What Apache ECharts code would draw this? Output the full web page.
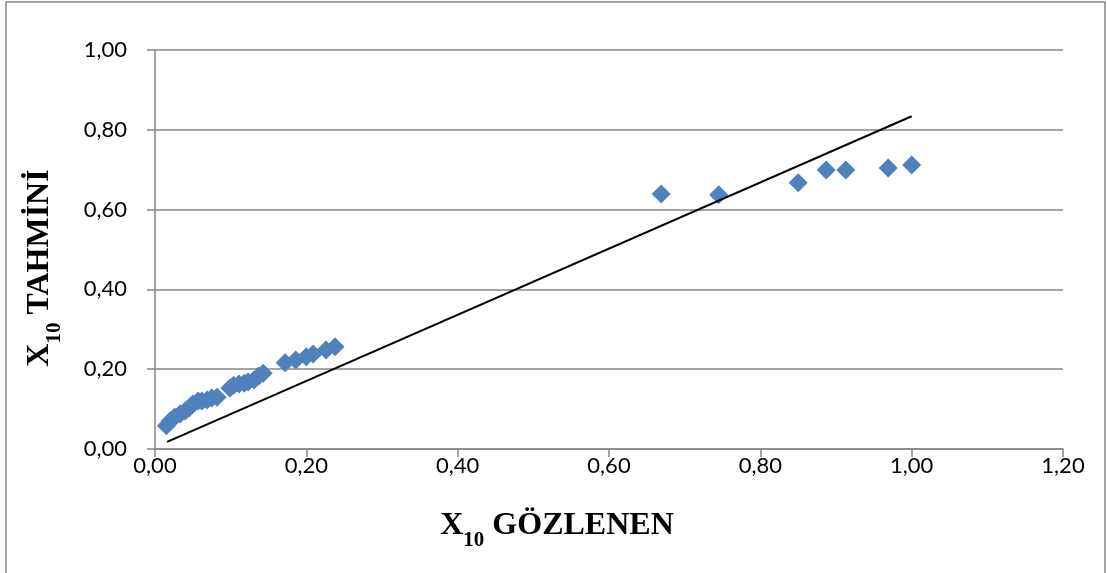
<!DOCTYPE html>
<html><head><meta charset="utf-8">
<script src="https://cdn.jsdelivr.net/npm/echarts@6/dist/echarts.min.js"></script>
<style>html,body{margin:0;padding:0;background:#fff}#c{width:1107px;height:573px}</style>
</head><body><div id="c"></div>
<script>
// Observed X10 values (x) and estimated X10 values (y)
const observed = [0.015,0.020,0.026,0.033,0.040,0.045,0.050,0.057,0.062,0.069,0.075,0.082,
  0.099,0.104,0.111,0.118,0.123,0.131,0.137,0.143,
  0.172,0.186,0.200,0.209,0.226,0.238,
  0.669,0.745,0.850,0.887,0.913,0.969,1.000];
const estimated = [0.058,0.070,0.080,0.088,0.095,0.103,0.113,0.120,0.120,0.123,0.128,0.130,
  0.153,0.160,0.163,0.165,0.168,0.173,0.183,0.190,
  0.216,0.223,0.231,0.238,0.248,0.256,
  0.639,0.637,0.667,0.699,0.699,0.704,0.712];
// Fitted line end points
const lineX = [0.016, 1.000];
const lineY = [0.018, 0.834];
const xTitle = 'GÖZLENEN';
const yTitle = 'TAHMİNİ';

const fmt = v => v.toFixed(2).replace('.', ',');
const chart = echarts.init(document.getElementById('c'));
const labelFont = {fontFamily: 'Lato, "Noto Sans", sans-serif', fontSize: 22, color: '#000'};
const rich = {
  b: {fontFamily: '"Liberation Serif", serif', fontWeight: 'bold', fontSize: 32, fill: '#000', verticalAlign: 'bottom'},
  s: {fontFamily: '"Liberation Serif", serif', fontWeight: 'bold', fontSize: 21, fill: '#000', padding: [0,0,-9,0], verticalAlign: 'bottom'}
};
chart.setOption({
  animation: false,
  grid: {left: 155, right: 44, top: 50, bottom: 124},
  xAxis: {
    type: 'value', min: 0, max: 1.2, interval: 0.2,
    axisLine: {show: true, lineStyle: {color: '#868686', width: 1.5}},
    axisTick: {show: true, length: 8, lineStyle: {color: '#868686', width: 1.5}},
    axisLabel: Object.assign({margin: 6, formatter: fmt}, labelFont),
    splitLine: {show: false}
  },
  yAxis: {
    type: 'value', min: 0, max: 1, interval: 0.2,
    axisLine: {show: true, lineStyle: {color: '#868686', width: 1.5}},
    axisTick: {show: true, length: 8, lineStyle: {color: '#868686', width: 1.5}},
    axisLabel: Object.assign({margin: 28, formatter: fmt}, labelFont),
    splitLine: {show: true, lineStyle: {color: '#868686', width: 1.5}}
  },
  graphic: [
    {type: 'rect', shape: {x: 6, y: 2, width: 1099, height: 580}, style: {fill: 'none', stroke: '#868686', lineWidth: 1.5}, silent: true},
    {type: 'text', x: 557, y: 526, style: {
      text: '{b|X}{s|10}{b| ' + xTitle + '}', align: 'center', verticalAlign: 'middle', rich: rich}},
    {type: 'text', x: 40, y: 268, rotation: Math.PI / 2, style: {
      text: '{b|X}{s|10}{b| ' + yTitle + '}', align: 'center', verticalAlign: 'middle', rich: rich}}
  ],
  series: [
    {type: 'scatter', symbol: 'diamond', symbolSize: 19,
      itemStyle: {color: '#4F81BD', opacity: 1},
      data: observed.map((x, i) => [x, estimated[i]]), z: 3},
    {type: 'line', symbol: 'none', lineStyle: {color: '#000', width: 2},
      data: lineX.map((x, i) => [x, lineY[i]]), z: 4}
  ]
});
</script></body></html>
